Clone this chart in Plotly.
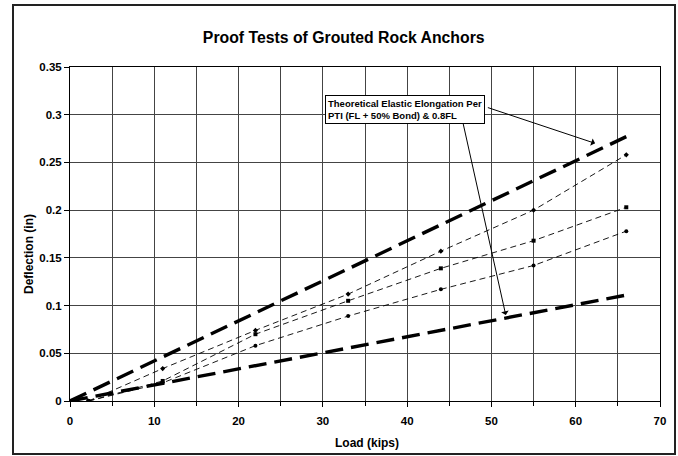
import plotly.graph_objects as go

# Data
theory_load = [0, 66]
theory_upper = [0.0, 0.277]   # FL + 50% Bond
theory_lower = [0.0, 0.111]   # 0.8FL

test_load = [2.2, 11, 22, 33, 44, 55, 66]
test_a = [0.0, 0.034, 0.074, 0.112, 0.157, 0.200, 0.258]
test_b = [0.0, 0.021, 0.070, 0.105, 0.139, 0.168, 0.203]
test_c = [0.0, 0.019, 0.058, 0.089, 0.117, 0.142, 0.178]

title_text = "Proof Tests of Grouted Rock Anchors"
x_title = "Load (kips)"
y_title = "Deflection (in)"
note_text = "Theoretical Elastic Elongation Per<br>PTI (FL + 50% Bond) & 0.8FL"

FONT = "Liberation Sans, Arial, sans-serif"

fig = go.Figure()

for y in (theory_upper, theory_lower):
    fig.add_trace(go.Scatter(x=theory_load, y=y, mode="lines",
                             line=dict(color="black", width=3.4, dash="18px,8px"),
                             hoverinfo="skip", showlegend=False))

for y, sym in ((test_a, "diamond"), (test_b, "square"), (test_c, "circle")):
    fig.add_trace(go.Scatter(x=test_load, y=y, mode="lines+markers",
                             line=dict(color="black", width=0.9, dash="6px,4px"),
                             marker=dict(color="black", size=4, symbol=sym),
                             showlegend=False))

# Text box
fig.add_annotation(x=30.25, y=0.3208, xref="x", yref="y", xanchor="left", yanchor="top",
                   text=note_text, showarrow=False, align="left",
                   font=dict(family=FONT, size=9.5, color="black", weight="bold"),
                   bgcolor="white", bordercolor="black", borderwidth=1, borderpad=2)
# Arrows
fig.add_annotation(x=62.3, y=0.270, ax=49.4, ay=0.308, xref="x", yref="y",
                   axref="x", ayref="y", text="", showarrow=True,
                   arrowhead=1, arrowsize=1.3, arrowwidth=1, arrowcolor="black")
fig.add_annotation(x=51.7, y=0.090, ax=46.6, ay=0.2925, xref="x", yref="y",
                   axref="x", ayref="y", text="", showarrow=True,
                   arrowhead=1, arrowsize=1.3, arrowwidth=1, arrowcolor="black")

# Layout geometry (pixels)
L, R, T, B = 70, 660, 67, 401
pw, ph = R - L, B - T

# Axis titles
titlefont = dict(family=FONT, size=12, color="black", weight="bold")
fig.add_annotation(x=(367 - L) / pw, y=-(443 - B) / ph, xref="paper", yref="paper",
                   text=x_title, showarrow=False, xanchor="center", yanchor="middle",
                   font=titlefont)
fig.add_annotation(x=(29 - L) / pw, y=(B - 254) / ph, xref="paper", yref="paper",
                   text=y_title, showarrow=False, xanchor="center", yanchor="middle",
                   textangle=-90, font=titlefont)

# Outer chart border
fig.add_shape(type="rect", xref="paper", yref="paper",
              x0=(13 - L) / pw, x1=(675 - L) / pw,
              y0=-(454 - B) / ph, y1=1 + (T - 5) / ph,
              line=dict(color="#222222", width=2), layer="above")

tickfont = dict(family=FONT, size=11.5, color="black", weight="bold")

fig.update_layout(
    width=678, height=456,
    margin=dict(l=L, r=678 - R, t=T, b=456 - B),
    paper_bgcolor="white", plot_bgcolor="white",
    title=dict(text=title_text, x=0.507, xref="container", y=1 - 37 / 456, yref="container",
               xanchor="center", yanchor="middle",
               font=dict(family=FONT, size=15.8, color="black", weight="bold")),
    xaxis=dict(range=[0, 70], dtick=10, tick0=0, showgrid=True, gridcolor="#444444", gridwidth=1,
               minor=dict(dtick=5, showgrid=True, gridcolor="#444444", gridwidth=1,
                          ticks="outside", ticklen=4, tickcolor="black"),
               ticks="outside", ticklen=5, tickcolor="black", ticklabelstandoff=4,
               showline=True, linecolor="black", linewidth=1, mirror=True,
               zeroline=False, tickfont=tickfont),
    yaxis=dict(range=[0, 0.35], dtick=0.05, tick0=0, showgrid=True, gridcolor="#444444", gridwidth=1,
               ticks="outside", ticklen=5, tickcolor="black",
               showline=True, linecolor="black", linewidth=1, mirror=True,
               zeroline=False, tickfont=tickfont),
)

fig.write_html("out.html", config={"displayModeBar": False},
               post_script="document.body.style.margin='0';document.body.style.overflow='hidden';")
